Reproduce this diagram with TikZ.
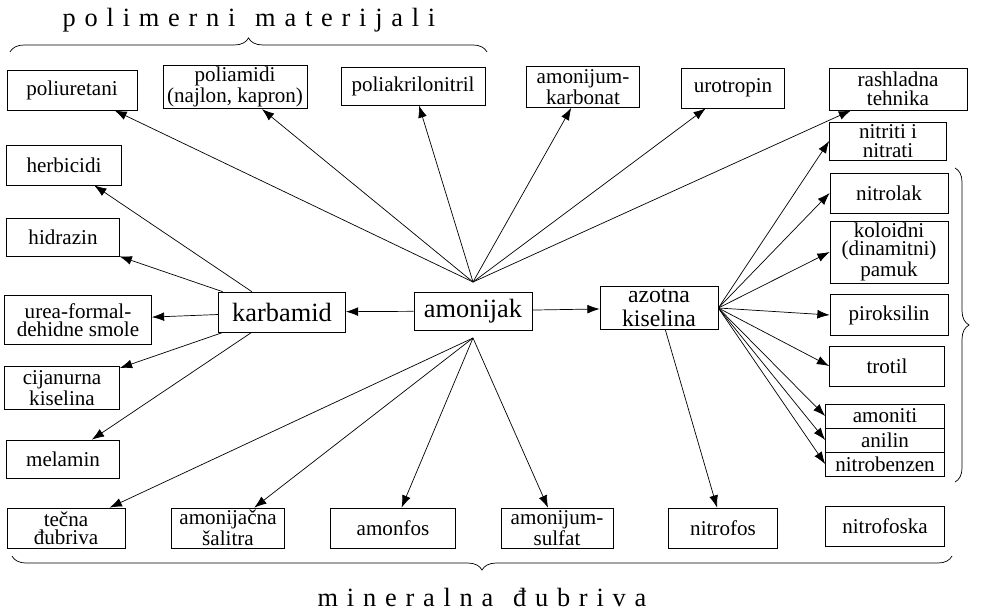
\documentclass[tikz,border=0pt]{standalone}
\usepackage{fontspec}
\setmainfont{Liberation Serif}
\usetikzlibrary{arrows.meta, decorations.pathreplacing}

\begin{document}
\begin{tikzpicture}[x=0.02cm, y=-0.02cm,
  box/.style={rectangle, draw=black, thin, inner sep=1pt, align=center,
    font=\fontsize{12}{10.5}\selectfont},
  mainbox/.style={box, font=\fontsize{15}{12}\selectfont},
  arrow/.style={thin, -{Latex[length=7pt,width=5pt]}},
  brace/.style={decorate, decoration={brace, amplitude=8pt}},
  label/.style={font=\fontsize{15}{15}\selectfont}]
\useasboundingbox (0,0) rectangle (987,612);

% center
\node (amonijak) [mainbox, minimum width=2.36cm, minimum height=0.76cm] at (473,311) {amonijak};
\node (karbamid) [mainbox, minimum width=2.54cm, minimum height=0.8cm] at (282,312) {karbamid};
\node (azotna) [mainbox, font=\fontsize{13.5}{13.5}\selectfont, minimum width=2.36cm, minimum height=0.86cm] at (659,308) {azotna\\kiselina};
\coordinate (top) at (473,282);
\coordinate (bottom) at (473,338);

% top row
\node (poliuretani) [box, minimum width=2.6cm, minimum height=0.8cm] at (72,90) {poliuretani};
\node (poliamidi) [box, minimum width=2.88cm, minimum height=0.82cm] at (235,87) {poliamidi\\(najlon, kapron)};
\node (poliakril) [box, minimum width=2.88cm, minimum height=0.76cm] at (413,86) {poliakrilonitril};
\node (karbonat) [box, minimum width=2.26cm, minimum height=0.82cm] at (583,87) {amonijum-\\karbonat};
\node (urotropin) [box, minimum width=2.06cm, minimum height=0.8cm] at (733,88) {urotropin};
\node (rashladna) [box, minimum width=2.76cm, minimum height=0.84cm] at (898,89) {rashladna\\tehnika};

% left column
\node (herbicidi) [box, minimum width=2.3cm, minimum height=0.8cm] at (64,165) {herbicidi};
\node (hidrazin) [box, minimum width=2.26cm, minimum height=0.76cm] at (63,237) {hidrazin};
\node (urea) [box, minimum width=2.94cm, minimum height=0.98cm] at (78,320) {urea-formal-\\dehidne smole};
\node (cijanurna) [box, minimum width=2.3cm, minimum height=0.86cm] at (62,388) {cijanurna\\kiselina};
\node (melamin) [box, minimum width=2.26cm, minimum height=0.76cm] at (63,459) {melamin};

% right column
\node (nitriti) [box, minimum width=2.34cm, minimum height=0.76cm] at (888,141) {nitriti i\\nitrati};
\node (nitrolak) [box, minimum width=2.36cm, minimum height=0.8cm] at (889,193) {nitrolak};
\node (koloidni) [box, minimum width=2.36cm, minimum height=1.22cm] at (889,252) {koloidni\\(dinamitni)\\pamuk};
\node (piroksilin) [box, minimum width=2.36cm, minimum height=0.82cm] at (889,315) {piroksilin};
\node (trotil) [box, minimum width=2.3cm, minimum height=0.8cm] at (887,366) {trotil};
\node (amoniti) [box, minimum width=2.38cm, minimum height=0.48cm] at (885,416) {amoniti};
\node (anilin) [box, minimum width=2.38cm, minimum height=0.48cm] at (885,440) {anilin};
\node (nitrobenzen) [box, minimum width=2.38cm, minimum height=0.48cm] at (885,464) {nitrobenzen};

% bottom row
\node (tecna) [box, minimum width=2.36cm, minimum height=0.8cm] at (66,528) {tečna\\đubriva};
\node (salitra) [box, minimum width=2.26cm, minimum height=0.8cm] at (228,528) {amonijačna\\šalitra};
\node (amonfos) [box, minimum width=2.5cm, minimum height=0.8cm] at (393,528) {amonfos};
\node (sulfat) [box, minimum width=2.24cm, minimum height=0.8cm] at (557,528) {amonijum-\\sulfat};
\node (nitrofos) [box, minimum width=2.18cm, minimum height=0.8cm] at (723,528) {nitrofos};
\node (nitrofoska) [box, minimum width=2.38cm, minimum height=0.8cm] at (885,526) {nitrofoska};

% connectors
\draw [arrow] (amonijak) -- (karbamid);
\draw [arrow] (amonijak) -- (azotna);
\foreach \t in {poliuretani, poliamidi, poliakril, karbonat, urotropin, rashladna}
  \draw [arrow] (top) -- (\t);
\foreach \t in {herbicidi, hidrazin, urea, cijanurna, melamin}
  \draw [arrow] (karbamid) -- (\t);
\foreach \t in {tecna, salitra, amonfos, sulfat}
  \draw [arrow] (bottom) -- (\t);
\foreach \t in {nitriti, nitrolak, koloidni, piroksilin, trotil, amoniti, anilin, nitrobenzen}
  \draw [arrow] (azotna.east) -- (\t.west);
\draw [arrow] (azotna) -- (nitrofos);

% braces
\draw [brace] (10,52) -- (487,52);
\node (polimerni) [label] at (249,20) {p\,\,o\,\,l\,\,i\,\,m\,\,e\,\,r\,\,n\,\,i \ \ m\,\,a\,\,t\,\,e\,\,r\,\,i\,\,j\,\,a\,\,l\,\,i};
\draw [brace] (952,556) -- (12,556);
\node (mineralna) [label] at (482,597) {m\,\,i\,\,n\,\,e\,\,r\,\,a\,\,l\,\,n\,\,a \ \ đ\,\,u\,\,b\,\,r\,\,i\,\,v\,\,a};
\draw [brace] (955,168) -- (955,482);
\end{tikzpicture}
\end{document}
